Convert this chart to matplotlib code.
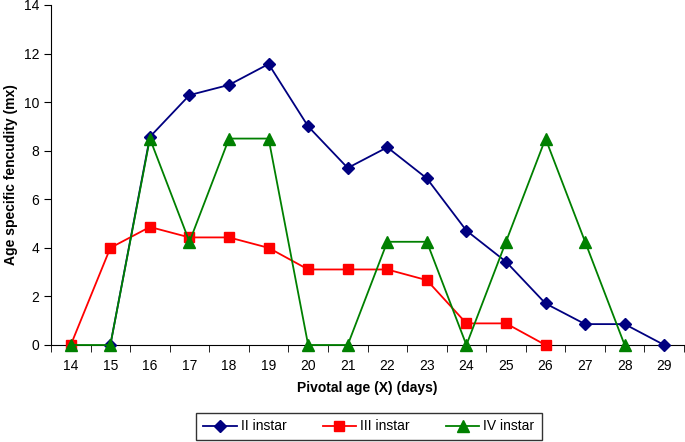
import matplotlib
matplotlib.use("Agg")
import matplotlib.pyplot as plt

plt.rcParams['font.family'] = ['Liberation Sans', 'DejaVu Sans']

days = [14, 15, 16, 17, 18, 19, 20, 21, 22, 23, 24, 25, 26, 27, 28, 29]
ii_days = [15, 16, 17, 18, 19, 20, 21, 22, 23, 24, 25, 26, 27, 28, 29]
ii_vals = [0, 8.57, 10.29, 10.71, 11.57, 9.0, 7.29, 8.14, 6.86, 4.71, 3.43, 1.71, 0.86, 0.86, 0]
iii_days = [14, 15, 16, 17, 18, 19, 20, 21, 22, 23, 24, 25, 26]
iii_vals = [0, 4.0, 4.86, 4.43, 4.43, 4.0, 3.11, 3.11, 3.11, 2.67, 0.89, 0.89, 0]
iv_days = [14, 15, 16, 17, 18, 19, 20, 21, 22, 23, 24, 25, 26, 27, 28]
iv_vals = [0, 0, 8.5, 4.25, 8.5, 8.5, 0, 0, 4.25, 4.25, 0, 4.25, 8.5, 4.25, 0]

fig = plt.figure(figsize=(6.85, 4.42), dpi=100)
ax = fig.add_axes([51/685, 1-345/442, (684-51)/685, (345-5)/442])

ax.plot(ii_days, ii_vals, color='#000080', marker='D', markersize=6, lw=1.3, label='II instar', clip_on=False, zorder=3)
ax.plot(iii_days, iii_vals, color='#FF0000', marker='s', markersize=7, lw=1.3, label='III instar', clip_on=False, zorder=4)
ax.plot(iv_days, iv_vals, color='#008000', marker='^', markersize=8, lw=1.3, label='IV instar', clip_on=False, zorder=5)

ax.set_xlim(13.5, 29.5)
ax.set_ylim(0, 14)
ax.set_yticks(range(0, 15, 2))
ax.set_xticks(days)
ax.set_xticks([d + 0.5 for d in [13] + days], minor=True)
ax.tick_params(axis='x', which='major', length=0, pad=10, labelsize=10)
ax.tick_params(axis='x', which='minor', length=5, direction='out')
ax.tick_params(axis='y', length=5, direction='out', labelsize=10)
ax.spines['top'].set_visible(False)
ax.spines['right'].set_visible(False)
ax.set_xlabel('Pivotal age (X) (days)', fontweight='bold', fontsize=10, labelpad=6)
ax.set_ylabel('Age specific fencudity (mx)', fontweight='bold', fontsize=10, labelpad=4)

leg = fig.legend(loc='center', bbox_to_anchor=(369/685, 1-426.5/442), ncol=3, frameon=True,
                 fancybox=False, edgecolor='black', fontsize=10, handlelength=2.4,
                 columnspacing=2.6, borderpad=0.5, handletextpad=0.3)
leg.get_frame().set_linewidth(1.0)

fig.savefig('out.png', dpi=100)
